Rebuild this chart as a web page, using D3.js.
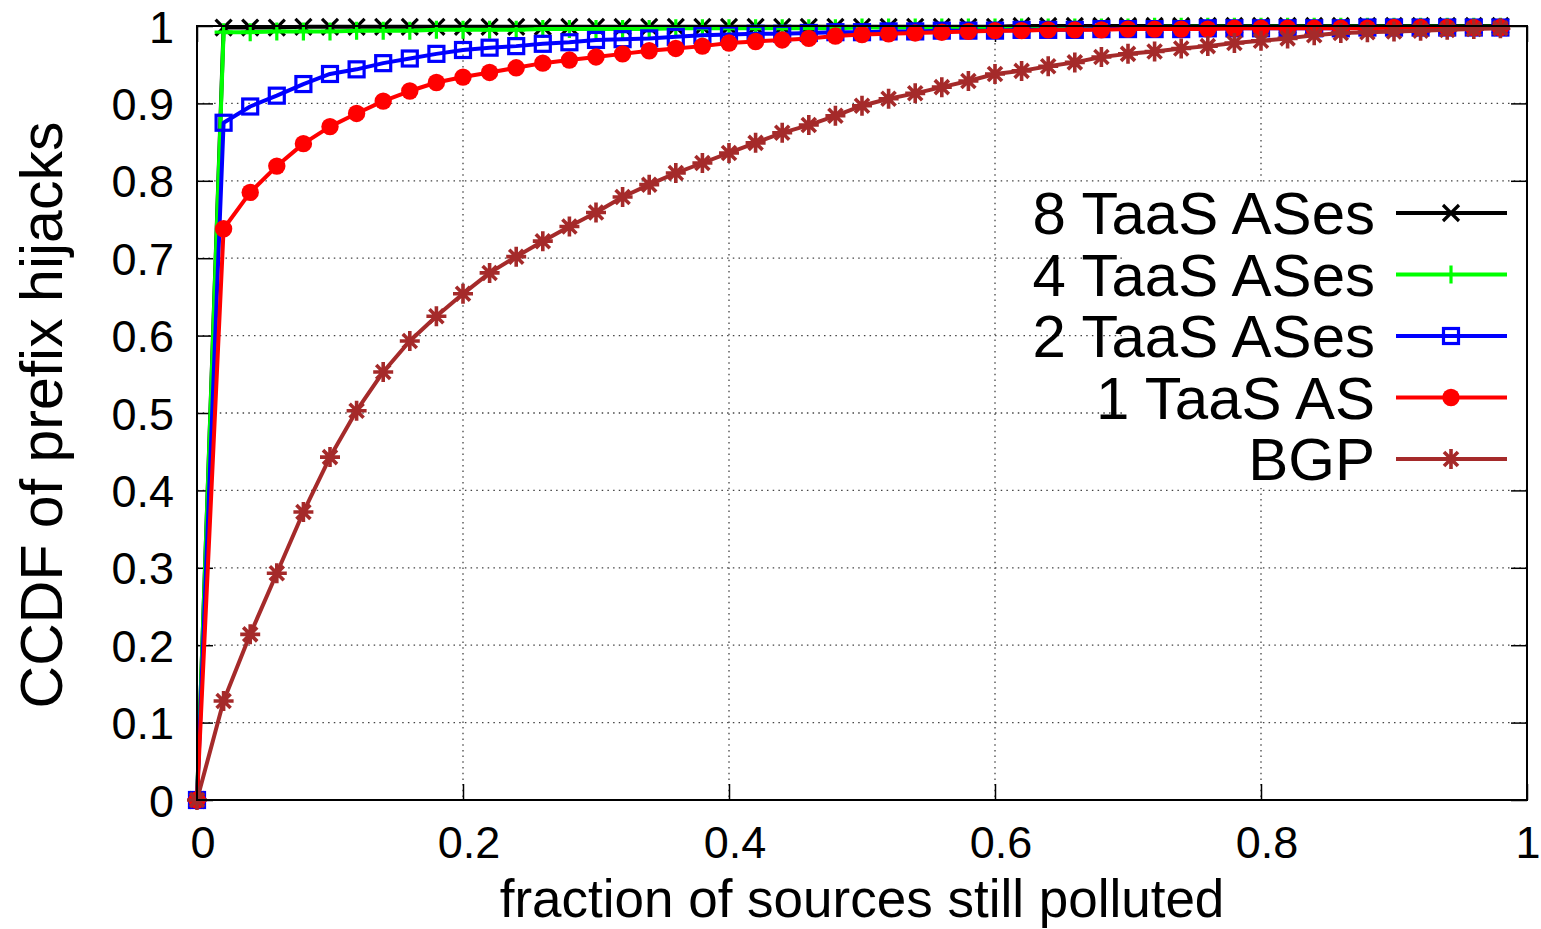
<!DOCTYPE html>
<html><head><meta charset="utf-8">
<script src="https://cdn.jsdelivr.net/npm/d3@7"></script>
<style>html,body{margin:0;padding:0;background:#fff;}svg{display:block;}</style>
</head><body>
<svg id="chart" width="1541" height="929"></svg>
<script>
const xValues = [0,0.02,0.04,0.06,0.08,0.10,0.12,0.14,0.16,0.18,0.20,0.22,0.24,0.26,0.28,0.30,0.32,0.34,0.36,0.38,0.40,0.42,0.44,0.46,0.48,0.50,0.52,0.54,0.56,0.58,0.60,0.62,0.64,0.66,0.68,0.70,0.72,0.74,0.76,0.78,0.80,0.82,0.84,0.86,0.88,0.90,0.92,0.94,0.96,0.98];
const taas8 = [0,0.998,0.998,0.998,0.999,0.999,0.999,0.999,0.999,0.999,0.999,0.999,0.999,0.999,0.999,0.999,0.999,0.999,0.999,0.999,0.999,0.999,0.999,0.999,0.999,0.999,0.999,0.999,0.999,0.999,0.999,1,1,1,1,1,1,1,1,1,1,1,1,1,1,1,1,1,1,1];
const taas4 = [0,0.992,0.992,0.993,0.993,0.993,0.994,0.994,0.994,0.995,0.995,0.995,0.995,0.996,0.996,0.996,0.996,0.996,0.997,0.997,0.997,0.997,0.997,0.997,0.997,0.998,0.998,0.998,0.998,0.998,0.998,0.998,0.998,0.998,0.998,0.998,0.999,0.999,0.999,0.999,0.999,0.999,0.999,0.999,0.999,0.999,0.999,0.999,0.999,0.999];
const taas2 = [0,0.875,0.896,0.910,0.925,0.938,0.944,0.952,0.958,0.964,0.969,0.972,0.974,0.977,0.979,0.982,0.983,0.984,0.986,0.988,0.989,0.990,0.990,0.991,0.992,0.992,0.993,0.993,0.994,0.994,0.994,0.995,0.995,0.995,0.996,0.996,0.996,0.996,0.997,0.997,0.997,0.997,0.997,0.997,0.998,0.998,0.998,0.998,0.998,0.998];
const taas1 = [0,0.738,0.785,0.819,0.848,0.870,0.887,0.903,0.916,0.927,0.934,0.940,0.946,0.952,0.956,0.960,0.964,0.968,0.971,0.974,0.978,0.980,0.982,0.984,0.987,0.989,0.990,0.991,0.992,0.993,0.994,0.994,0.995,0.995,0.995,0.996,0.996,0.996,0.996,0.997,0.997,0.997,0.997,0.997,0.997,0.998,0.998,0.998,0.998,0.998];
const bgp = [0,0.128,0.214,0.293,0.372,0.443,0.503,0.553,0.593,0.625,0.654,0.681,0.702,0.722,0.741,0.759,0.779,0.795,0.810,0.823,0.836,0.849,0.862,0.872,0.884,0.897,0.906,0.913,0.921,0.929,0.938,0.942,0.948,0.953,0.960,0.964,0.967,0.971,0.974,0.978,0.981,0.984,0.988,0.991,0.992,0.993,0.994,0.995,0.996,0.997];
const seriesNames = ["8 TaaS ASes","4 TaaS ASes","2 TaaS ASes","1 TaaS AS","BGP"];
const xTicks = [0,0.2,0.4,0.6,0.8,1];
const xTickLabels = ["0","0.2","0.4","0.6","0.8","1"];
const yTicks = [0,0.1,0.2,0.3,0.4,0.5,0.6,0.7,0.8,0.9,1];
const yTickLabels = ["0","0.1","0.2","0.3","0.4","0.5","0.6","0.7","0.8","0.9","1"];
const xTitle = "fraction of sources still polluted";
const yTitle = "CCDF of prefix hijacks";

const series = [
  {name: seriesNames[0], values: taas8, color: "#000000", marker: "cross"},
  {name: seriesNames[1], values: taas4, color: "#00ff00", marker: "plus"},
  {name: seriesNames[2], values: taas2, color: "#0000ff", marker: "square"},
  {name: seriesNames[3], values: taas1, color: "#ff0000", marker: "circle"},
  {name: seriesNames[4], values: bgp, color: "#a52a2a", marker: "star"}
];

const L = 197, R = 1527, T = 26, B = 800;
const svg = d3.select("#chart");
const x = d3.scaleLinear().domain([0,1]).range([L,R]);
const y = d3.scaleLinear().domain([0,1]).range([B,T]);
const font = "'Liberation Sans', Arial, Helvetica, sans-serif";

// grid
const grid = svg.append("g").attr("stroke","#444").attr("stroke-width",1.3).attr("stroke-dasharray","1.5,4.2");
grid.selectAll(".gy").data(yTicks.filter(v=>v>0&&v<1)).join("line")
  .attr("x1",L).attr("x2",R).attr("y1",d=>y(d)).attr("y2",d=>y(d));
grid.selectAll(".gx").data(xTicks.filter(v=>v>0&&v<1)).join("line")
  .attr("y1",T).attr("y2",B).attr("x1",d=>x(d)).attr("x2",d=>x(d));

// axes with inward ticks
const tl = 16;
const axB = svg.append("g").attr("transform",`translate(0,${B})`).call(d3.axisBottom(x).tickValues(xTicks).tickSize(-tl).tickFormat(""));
const axT = svg.append("g").attr("transform",`translate(0,${T})`).call(d3.axisTop(x).tickValues(xTicks).tickSize(-tl).tickFormat(""));
const axL = svg.append("g").attr("transform",`translate(${L},0)`).call(d3.axisLeft(y).tickValues(yTicks).tickSize(-tl).tickFormat(""));
const axR = svg.append("g").attr("transform",`translate(${R},0)`).call(d3.axisRight(y).tickValues(yTicks).tickSize(-tl).tickFormat(""));
[axB,axT,axL,axR].forEach(a=>{a.select(".domain").remove(); a.selectAll("line").attr("stroke","#000").attr("stroke-width",1.5);});

// tick labels
svg.append("g").selectAll("text").data(xTicks).join("text")
  .attr("x",d=>Math.min(x(d)+6, 1528)).attr("y",858).attr("text-anchor","middle")
  .attr("font-family",font).attr("font-size",45).text((d,i)=>xTickLabels[i]);
svg.append("g").selectAll("text").data(yTicks).join("text")
  .attr("x",174).attr("y",d=>y(d)+16.5).attr("text-anchor","end")
  .attr("font-family",font).attr("font-size",45).text((d,i)=>yTickLabels[i]);

// axis titles
svg.append("text").attr("x",(L+R)/2).attr("y",917).attr("text-anchor","middle")
  .attr("font-family",font).attr("font-size",53).text(xTitle);
svg.append("text").attr("transform",`translate(62,${(T+B)/2+2}) rotate(-90)`).attr("text-anchor","middle")
  .attr("font-family",font).attr("font-size",59).text(yTitle);

// marker drawing
function drawMarker(g, type, color, cx, cy) {
  const s = 8;
  if (type === "cross") {
    g.append("path").attr("d",`M${cx-s},${cy-s}L${cx+s},${cy+s}M${cx-s},${cy+s}L${cx+s},${cy-s}`)
      .attr("stroke",color).attr("stroke-width",3.2).attr("fill","none");
  } else if (type === "plus") {
    g.append("path").attr("d",`M${cx-9},${cy}L${cx+9},${cy}M${cx},${cy-9}L${cx},${cy+9}`)
      .attr("stroke",color).attr("stroke-width",3.2).attr("fill","none");
  } else if (type === "square") {
    g.append("rect").attr("x",cx-7.5).attr("y",cy-7.5).attr("width",15).attr("height",15)
      .attr("stroke",color).attr("stroke-width",3.2).attr("fill","none");
  } else if (type === "circle") {
    g.append("circle").attr("cx",cx).attr("cy",cy).attr("r",8.7).attr("fill",color);
  } else if (type === "star") {
    const d = 7;
    g.append("path").attr("d",`M${cx-10},${cy}L${cx+10},${cy}M${cx},${cy-10}L${cx},${cy+10}M${cx-d},${cy-d}L${cx+d},${cy+d}M${cx-d},${cy+d}L${cx+d},${cy-d}`)
      .attr("stroke",color).attr("stroke-width",3.6).attr("fill","none");
  }
}

// legend background (opaque key)
svg.append("rect").attr("x",1123).attr("y",183).attr("width",R-1123-1).attr("height",305).attr("fill","#fff");

// series
const line = d3.line().x((d,i)=>x(xValues[i])).y(d=>y(d));
series.forEach(s => {
  const g = svg.append("g");
  g.append("path").datum(s.values).attr("d",line).attr("fill","none")
    .attr("stroke",s.color).attr("stroke-width",4).attr("stroke-linejoin","round");
  s.values.forEach((v,i)=> drawMarker(g, s.marker, s.color, x(xValues[i]), y(v)));
});

// legend
const lg = svg.append("g");
series.forEach((s,i) => {
  const ly = 213 + i*61.5;
  lg.append("text").attr("x",1375).attr("y",ly+21).attr("text-anchor","end")
    .attr("font-family",font).attr("font-size",60).text(s.name);
  lg.append("line").attr("x1",1396).attr("x2",1507).attr("y1",ly).attr("y2",ly)
    .attr("stroke",s.color).attr("stroke-width",4);
  drawMarker(lg, s.marker, s.color, 1451, ly);
});

// frame
svg.append("rect").attr("x",L).attr("y",T).attr("width",R-L).attr("height",B-T)
  .attr("fill","none").attr("stroke","#000").attr("stroke-width",2);
</script>
</body></html>
